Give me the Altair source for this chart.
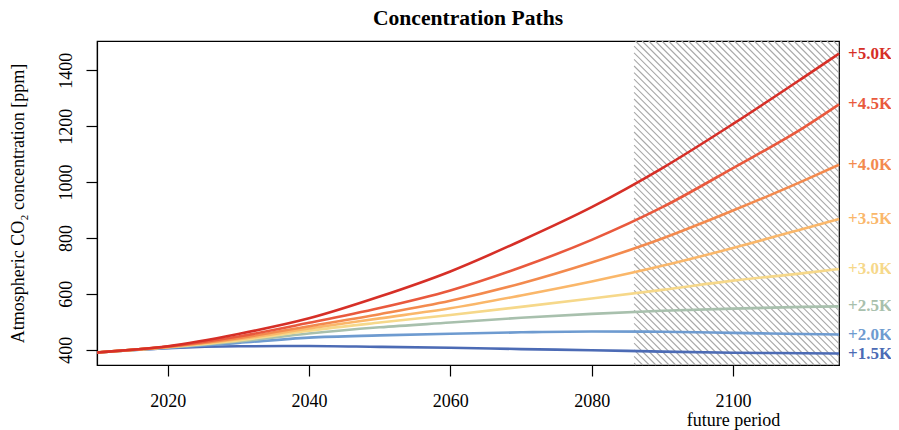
import altair as alt
import pandas as pd

# ---------------- data ----------------
years = [2010, 2020, 2030, 2040, 2050, 2060, 2070, 2080, 2090, 2100, 2110, 2115]
labels = ["+1.5K", "+2.0K", "+2.5K", "+3.0K", "+3.5K", "+4.0K", "+4.5K", "+5.0K"]
s15 = [390, 405, 412, 413, 410, 407, 402, 398, 393, 389, 387, 386]
s20 = [390, 406, 424, 443, 451, 457, 462, 465, 464, 460, 456, 454]
s25 = [390, 408, 429, 458, 480, 497, 514, 528, 539, 547, 553, 555]
s30 = [390, 409, 433, 468, 497, 524, 553, 583, 614, 647, 674, 689]
s35 = [390, 410, 437, 476, 512, 548, 594, 644, 700, 764, 833, 868]
s40 = [390, 410, 441, 484, 527, 575, 637, 712, 798, 898, 1005, 1062]
s45 = [390, 411, 447, 496, 549, 612, 695, 793, 910, 1050, 1195, 1278]
s50 = [390, 412, 456, 512, 590, 680, 790, 910, 1050, 1208, 1375, 1460]
series = [s15, s20, s25, s30, s35, s40, s45, s50]
colors = ["#4C6BB5", "#6E9BD0", "#A8C0AD", "#F6D88A", "#FAB76A", "#F38A4E", "#E9593D", "#D62F27"]

x_domain = [2010, 2115]
y_domain = [345, 1505]
x_ticks = [2020, 2040, 2060, 2080, 2100]
y_ticks = [400, 600, 800, 1000, 1200, 1400]
period = [2086, 2115]
period_center = 2100

W, H = 742, 324
FONT = "Liberation Serif"

rows = []
for lab, vals in zip(labels, series):
    for yr, v in zip(years, vals):
        rows.append({"year": yr, "ppm": v, "path": lab})
df = pd.DataFrame(rows)
ends = pd.DataFrame({"year": [years[-1]] * len(labels),
                     "ppm": [s[-1] for s in series], "path": labels})

# ---------------- hatch (45 degree lines in pixel space) ----------------
px_per_year = W / (x_domain[1] - x_domain[0])
px_per_ppm = H / (y_domain[1] - y_domain[0])
p0 = (period[0] - x_domain[0]) * px_per_year
p1 = (period[1] - x_domain[0]) * px_per_year
spacing = 6.6
hatch = []
c = p0 - H + 2
while c < p1:
    xa = max(p0, c)
    xb = min(p1, c + H)
    if xb > xa:
        ya, yb = xa - c, xb - c  # pixel y downward from top
        hatch.append({
            "x": x_domain[0] + xa / px_per_year,
            "x2": x_domain[0] + xb / px_per_year,
            "y": y_domain[1] - ya / px_per_ppm,
            "y2": y_domain[1] - yb / px_per_ppm,
        })
    c += spacing
hdf = pd.DataFrame(hatch)

xscale = alt.Scale(domain=x_domain, nice=False, zero=False)
yscale = alt.Scale(domain=y_domain, nice=False, zero=False)
cscale = alt.Scale(domain=labels, range=colors)

hatch_layer = alt.Chart(hdf).mark_rule(color="#a8a8a8", strokeWidth=1.1).encode(
    x=alt.X("x:Q", scale=xscale),
    x2="x2:Q",
    y=alt.Y("y:Q", scale=yscale),
    y2="y2:Q",
)

lines = alt.Chart(df).mark_line(strokeWidth=2.6, interpolate="monotone").encode(
    x=alt.X("year:Q", scale=xscale,
            axis=alt.Axis(values=x_ticks, title=None, format="d",
                          labelExpr=f"datum.value == {period_center} ? ['{period_center}', 'future period'] : datum.label",
                          labelLineHeight=19, labelPadding=16, labelBaseline="top")),
    y=alt.Y("ppm:Q", scale=yscale,
            axis=alt.Axis(values=y_ticks, title="Atmospheric CO₂ concentration [ppm]", format="d",
                          labelAngle=270, labelAlign="center", labelBaseline="alphabetic",
                          labelPadding=15, titleAngle=270, titleAlign="center",
                          titleBaseline="alphabetic", titleX=-74, titleY=H / 2)),
    color=alt.Color("path:N", scale=cscale, legend=None),
    detail="path:N",
)

text = alt.Chart(ends).mark_text(align="left", baseline="middle", dx=9, font=FONT,
                                 fontSize=17, fontWeight="bold").encode(
    x=alt.X("year:Q", scale=xscale),
    y=alt.Y("ppm:Q", scale=yscale),
    text="path:N",
    color=alt.Color("path:N", scale=cscale, legend=None),
)

chart = alt.layer(hatch_layer, lines, text).properties(
    width=W, height=H,
    title=alt.TitleParams("Concentration Paths", font=FONT, fontSize=21.6, fontWeight="bold",
                          anchor="middle", offset=11, color="black", frame="group"),
    autosize=alt.AutoSizeParams(type="none"),
    padding={"left": 89, "top": 33, "right": 52, "bottom": 65},
).configure_view(stroke="black", strokeWidth=1.2).configure_axis(
    grid=False, domainColor="black", domainWidth=1.2, tickColor="black", tickSize=11,
    tickWidth=1.2, labelFont=FONT, labelFontSize=18, labelColor="black",
    titleFont=FONT, titleFontSize=18, titleFontWeight="normal", titleColor="black",
    labelFlush=False, labelOverlap=False,
)

chart.save("out.html", embed_options={"renderer": "svg", "actions": False})
